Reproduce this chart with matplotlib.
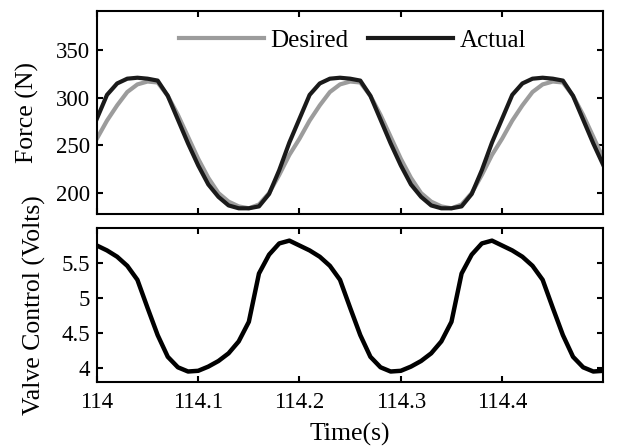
import numpy as np
import matplotlib.pyplot as plt

# %% data (one sample every 0.01 s)
time = np.round(np.arange(0, 51) * 0.01 + 114.0, 2)

desired_force = [257, 276, 292, 306, 314, 317, 316, 302, 282, 259,
                 236, 216, 200, 191, 186, 184, 188, 200, 219, 240,
                 257, 276, 292, 306, 314, 317, 316, 302, 282, 259,
                 236, 216, 200, 191, 186, 184, 188, 200, 219, 240,
                 257, 276, 292, 306, 314, 317, 316, 302, 282, 259,
                 236]

actual_force = [278, 303, 315, 320, 321, 320, 318, 302, 277, 252,
                229, 209, 196, 187, 184, 184, 186, 199, 224, 253,
                278, 303, 315, 320, 321, 320, 318, 302, 277, 252,
                229, 209, 196, 187, 184, 184, 186, 199, 224, 253,
                278, 303, 315, 320, 321, 320, 318, 302, 277, 252,
                229]

valve_volts = [5.75, 5.68, 5.59, 5.46, 5.26, 4.86, 4.47, 4.16, 4.01, 3.95,
               3.96, 4.02, 4.10, 4.21, 4.38, 4.66, 5.35, 5.62, 5.78, 5.82,
               5.75, 5.68, 5.59, 5.46, 5.26, 4.86, 4.47, 4.16, 4.01, 3.95,
               3.96, 4.02, 4.10, 4.21, 4.38, 4.66, 5.35, 5.62, 5.78, 5.82,
               5.75, 5.68, 5.59, 5.46, 5.26, 4.86, 4.47, 4.16, 4.01, 3.95,
               3.96]

force_ticks = [200, 250, 300, 350]
volt_ticks = [4, 4.5, 5, 5.5]
volt_labels = ['4', '4.5', '5', '5.5']
time_ticks = [114, 114.1, 114.2, 114.3, 114.4]
time_labels = ['114', '114.1', '114.2', '114.3', '114.4']

# %% style
plt.rcParams['font.family'] = ['Liberation Serif', 'DejaVu Serif']
plt.rcParams['font.size'] = 16.5
plt.rcParams['axes.labelsize'] = 18.5
plt.rcParams['legend.fontsize'] = 18
plt.rcParams['axes.linewidth'] = 1.5
for ax_name in ['xtick', 'ytick']:
    plt.rcParams[ax_name + '.direction'] = 'in'
    plt.rcParams[ax_name + '.major.size'] = 4
    plt.rcParams[ax_name + '.major.width'] = 1.5
plt.rcParams['xtick.major.pad'] = 7
plt.rcParams['ytick.major.pad'] = 5
plt.rcParams['xtick.top'] = True
plt.rcParams['ytick.right'] = True

fig = plt.figure(figsize=(6.17, 4.48), dpi=100)
ax1 = fig.add_axes([0.157, 0.5223, 0.821, 0.4531])
ax2 = fig.add_axes([0.157, 0.1473, 0.821, 0.3437])

# %% force panel
ax1.plot(time, desired_force, color='#9c9c9c', lw=3.0, label='Desired')
ax1.plot(time, actual_force, color='#1a1a1a', lw=3.0, label='Actual')
ax1.set_xlim(114, 114.5)
ax1.set_ylim(178, 391)
ax1.set_yticks(force_ticks)
ax1.set_xticks(time_ticks)
ax1.set_xticklabels([])
ax1.set_ylabel('Force (N)')
ax1.legend(loc='upper center', ncol=2, frameon=False, handlelength=3.4,
           columnspacing=0.8, handletextpad=0.25, bbox_to_anchor=(0.505, 1.02))

# %% valve panel
ax2.plot(time, valve_volts, color='black', lw=3.2)
ax2.set_xlim(114, 114.5)
ax2.set_ylim(3.8, 6.0)
ax2.set_yticks(volt_ticks)
ax2.set_yticklabels(volt_labels)
ax2.set_xticks(time_ticks)
ax2.set_xticklabels(time_labels)
ax2.set_ylabel('Valve Control (Volts)')
ax2.set_xlabel('Time(s)', labelpad=7)

ax1.yaxis.set_label_coords(-0.115, 0.5)
ax2.yaxis.set_label_coords(-0.1, 0.5)

fig.savefig('out.png', dpi=100)
